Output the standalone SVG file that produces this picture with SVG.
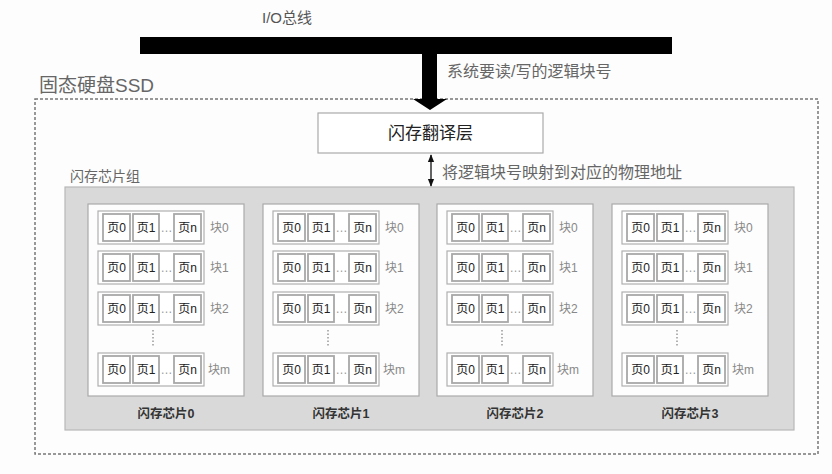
<svg xmlns="http://www.w3.org/2000/svg" width="832" height="474" viewBox="0 0 832 474">
<style>
text{font-family:"Liberation Sans","Noto Sans CJK SC",sans-serif}
.chip{fill:#fdfdfd;stroke:#aaa;stroke-width:1.2}
.blk{fill:#fff;stroke:#b0b0b0;stroke-width:1.2}
.pg{fill:#fff;stroke:#a8a8a8;stroke-width:1.8}
.pt{font-size:12px;fill:#222;text-anchor:middle}
.dots{font-size:12px;fill:#999;text-anchor:middle}
.bl{font-size:12px;fill:#888}
.cl{font-size:12.5px;fill:#333;text-anchor:middle;font-weight:600}
.vd{stroke:#999;stroke-width:1.5;stroke-dasharray:1.5 2}
.gray{fill:#666}
</style>
<defs>
<marker id="ah" viewBox="0 0 10 10" refX="9" refY="5" markerWidth="6" markerHeight="6" orient="auto-start-reverse"><path d="M0,1 L10,5 L0,9 Z" fill="#111"/></marker>
</defs>
<rect width="832" height="474" fill="#fdfdfd"/>

<g id="bus">
<rect x="140" y="37" width="532" height="17" fill="#000"/>
<text x="262" y="23" font-size="15" fill="#555">I/O总线</text>
</g>

<g id="ssd">
<rect x="35" y="99" width="783" height="355" fill="none" stroke="#777" stroke-width="1.5" stroke-dasharray="3 2"/>
<text x="39" y="92" font-size="19" class="gray">固态硬盘SSD</text>
</g>

<g id="ftl">
<rect x="318" y="113" width="225" height="40" fill="#fff" stroke="#aaa" stroke-width="1.2"/>
<text x="430.5" y="139" font-size="17" fill="#222" text-anchor="middle">闪存翻译层</text>
</g>

<g id="chipgroup">
<rect x="65" y="187" width="729" height="243" fill="#d9d9d9" stroke="#b8b8b8" stroke-width="1.2"/>
<text x="70" y="181" font-size="14" class="gray">闪存芯片组</text>
</g>

<g id="connectors">
<path d="M422,54 H437 V99 H447 L430,110 L413,99 H422 Z" fill="#000"/>
<text x="447" y="77" font-size="16" class="gray">系统要读/写的逻辑块号</text>
<line x1="431" y1="155" x2="431" y2="186" stroke="#111" stroke-width="1.3" marker-start="url(#ah)" marker-end="url(#ah)"/>
<text x="442" y="178" font-size="16" class="gray">将逻辑块号映射到对应的物理地址</text>
</g>

<g id="chip0" transform="translate(88,0)">
<rect class="chip" x="0" y="204" width="156" height="192"/>
<g transform="translate(0,211)"><rect class="blk" x="10" y="0" width="106" height="33"/><rect class="pg" x="15" y="3" width="27" height="27"/><rect class="pg" x="45" y="3" width="26" height="27"/><rect class="pg" x="86" y="3" width="27" height="27"/><text class="pt" x="28.5" y="21">页0</text><text class="pt" x="58" y="21">页1</text><text class="pt" x="99.5" y="21">页n</text><text class="dots" x="78.5" y="21">…</text><text class="bl" x="122" y="21">块0</text></g>
<g transform="translate(0,251)"><rect class="blk" x="10" y="0" width="106" height="33"/><rect class="pg" x="15" y="3" width="27" height="27"/><rect class="pg" x="45" y="3" width="26" height="27"/><rect class="pg" x="86" y="3" width="27" height="27"/><text class="pt" x="28.5" y="21">页0</text><text class="pt" x="58" y="21">页1</text><text class="pt" x="99.5" y="21">页n</text><text class="dots" x="78.5" y="21">…</text><text class="bl" x="122" y="21">块1</text></g>
<g transform="translate(0,292)"><rect class="blk" x="10" y="0" width="106" height="33"/><rect class="pg" x="15" y="3" width="27" height="27"/><rect class="pg" x="45" y="3" width="26" height="27"/><rect class="pg" x="86" y="3" width="27" height="27"/><text class="pt" x="28.5" y="21">页0</text><text class="pt" x="58" y="21">页1</text><text class="pt" x="99.5" y="21">页n</text><text class="dots" x="78.5" y="21">…</text><text class="bl" x="122" y="21">块2</text></g>
<line class="vd" x1="65" y1="330" x2="65" y2="347"/>
<g transform="translate(0,353)"><rect class="blk" x="10" y="0" width="106" height="33"/><rect class="pg" x="15" y="3" width="27" height="27"/><rect class="pg" x="45" y="3" width="26" height="27"/><rect class="pg" x="86" y="3" width="27" height="27"/><text class="pt" x="28.5" y="21">页0</text><text class="pt" x="58" y="21">页1</text><text class="pt" x="99.5" y="21">页n</text><text class="dots" x="78.5" y="21">…</text><text class="bl" x="120" y="21">块m</text></g>
<text class="cl" x="78" y="418">闪存芯片0</text>
</g>

<g id="chip1" transform="translate(263,0)">
<rect class="chip" x="0" y="204" width="156" height="192"/>
<g transform="translate(0,211)"><rect class="blk" x="10" y="0" width="106" height="33"/><rect class="pg" x="15" y="3" width="27" height="27"/><rect class="pg" x="45" y="3" width="26" height="27"/><rect class="pg" x="86" y="3" width="27" height="27"/><text class="pt" x="28.5" y="21">页0</text><text class="pt" x="58" y="21">页1</text><text class="pt" x="99.5" y="21">页n</text><text class="dots" x="78.5" y="21">…</text><text class="bl" x="122" y="21">块0</text></g>
<g transform="translate(0,251)"><rect class="blk" x="10" y="0" width="106" height="33"/><rect class="pg" x="15" y="3" width="27" height="27"/><rect class="pg" x="45" y="3" width="26" height="27"/><rect class="pg" x="86" y="3" width="27" height="27"/><text class="pt" x="28.5" y="21">页0</text><text class="pt" x="58" y="21">页1</text><text class="pt" x="99.5" y="21">页n</text><text class="dots" x="78.5" y="21">…</text><text class="bl" x="122" y="21">块1</text></g>
<g transform="translate(0,292)"><rect class="blk" x="10" y="0" width="106" height="33"/><rect class="pg" x="15" y="3" width="27" height="27"/><rect class="pg" x="45" y="3" width="26" height="27"/><rect class="pg" x="86" y="3" width="27" height="27"/><text class="pt" x="28.5" y="21">页0</text><text class="pt" x="58" y="21">页1</text><text class="pt" x="99.5" y="21">页n</text><text class="dots" x="78.5" y="21">…</text><text class="bl" x="122" y="21">块2</text></g>
<line class="vd" x1="65" y1="330" x2="65" y2="347"/>
<g transform="translate(0,353)"><rect class="blk" x="10" y="0" width="106" height="33"/><rect class="pg" x="15" y="3" width="27" height="27"/><rect class="pg" x="45" y="3" width="26" height="27"/><rect class="pg" x="86" y="3" width="27" height="27"/><text class="pt" x="28.5" y="21">页0</text><text class="pt" x="58" y="21">页1</text><text class="pt" x="99.5" y="21">页n</text><text class="dots" x="78.5" y="21">…</text><text class="bl" x="120" y="21">块m</text></g>
<text class="cl" x="78" y="418">闪存芯片1</text>
</g>

<g id="chip2" transform="translate(437,0)">
<rect class="chip" x="0" y="204" width="156" height="192"/>
<g transform="translate(0,211)"><rect class="blk" x="10" y="0" width="106" height="33"/><rect class="pg" x="15" y="3" width="27" height="27"/><rect class="pg" x="45" y="3" width="26" height="27"/><rect class="pg" x="86" y="3" width="27" height="27"/><text class="pt" x="28.5" y="21">页0</text><text class="pt" x="58" y="21">页1</text><text class="pt" x="99.5" y="21">页n</text><text class="dots" x="78.5" y="21">…</text><text class="bl" x="122" y="21">块0</text></g>
<g transform="translate(0,251)"><rect class="blk" x="10" y="0" width="106" height="33"/><rect class="pg" x="15" y="3" width="27" height="27"/><rect class="pg" x="45" y="3" width="26" height="27"/><rect class="pg" x="86" y="3" width="27" height="27"/><text class="pt" x="28.5" y="21">页0</text><text class="pt" x="58" y="21">页1</text><text class="pt" x="99.5" y="21">页n</text><text class="dots" x="78.5" y="21">…</text><text class="bl" x="122" y="21">块1</text></g>
<g transform="translate(0,292)"><rect class="blk" x="10" y="0" width="106" height="33"/><rect class="pg" x="15" y="3" width="27" height="27"/><rect class="pg" x="45" y="3" width="26" height="27"/><rect class="pg" x="86" y="3" width="27" height="27"/><text class="pt" x="28.5" y="21">页0</text><text class="pt" x="58" y="21">页1</text><text class="pt" x="99.5" y="21">页n</text><text class="dots" x="78.5" y="21">…</text><text class="bl" x="122" y="21">块2</text></g>
<line class="vd" x1="65" y1="330" x2="65" y2="347"/>
<g transform="translate(0,353)"><rect class="blk" x="10" y="0" width="106" height="33"/><rect class="pg" x="15" y="3" width="27" height="27"/><rect class="pg" x="45" y="3" width="26" height="27"/><rect class="pg" x="86" y="3" width="27" height="27"/><text class="pt" x="28.5" y="21">页0</text><text class="pt" x="58" y="21">页1</text><text class="pt" x="99.5" y="21">页n</text><text class="dots" x="78.5" y="21">…</text><text class="bl" x="120" y="21">块m</text></g>
<text class="cl" x="78" y="418">闪存芯片2</text>
</g>

<g id="chip3" transform="translate(612,0)">
<rect class="chip" x="0" y="204" width="156" height="192"/>
<g transform="translate(0,211)"><rect class="blk" x="10" y="0" width="106" height="33"/><rect class="pg" x="15" y="3" width="27" height="27"/><rect class="pg" x="45" y="3" width="26" height="27"/><rect class="pg" x="86" y="3" width="27" height="27"/><text class="pt" x="28.5" y="21">页0</text><text class="pt" x="58" y="21">页1</text><text class="pt" x="99.5" y="21">页n</text><text class="dots" x="78.5" y="21">…</text><text class="bl" x="122" y="21">块0</text></g>
<g transform="translate(0,251)"><rect class="blk" x="10" y="0" width="106" height="33"/><rect class="pg" x="15" y="3" width="27" height="27"/><rect class="pg" x="45" y="3" width="26" height="27"/><rect class="pg" x="86" y="3" width="27" height="27"/><text class="pt" x="28.5" y="21">页0</text><text class="pt" x="58" y="21">页1</text><text class="pt" x="99.5" y="21">页n</text><text class="dots" x="78.5" y="21">…</text><text class="bl" x="122" y="21">块1</text></g>
<g transform="translate(0,292)"><rect class="blk" x="10" y="0" width="106" height="33"/><rect class="pg" x="15" y="3" width="27" height="27"/><rect class="pg" x="45" y="3" width="26" height="27"/><rect class="pg" x="86" y="3" width="27" height="27"/><text class="pt" x="28.5" y="21">页0</text><text class="pt" x="58" y="21">页1</text><text class="pt" x="99.5" y="21">页n</text><text class="dots" x="78.5" y="21">…</text><text class="bl" x="122" y="21">块2</text></g>
<line class="vd" x1="65" y1="330" x2="65" y2="347"/>
<g transform="translate(0,353)"><rect class="blk" x="10" y="0" width="106" height="33"/><rect class="pg" x="15" y="3" width="27" height="27"/><rect class="pg" x="45" y="3" width="26" height="27"/><rect class="pg" x="86" y="3" width="27" height="27"/><text class="pt" x="28.5" y="21">页0</text><text class="pt" x="58" y="21">页1</text><text class="pt" x="99.5" y="21">页n</text><text class="dots" x="78.5" y="21">…</text><text class="bl" x="120" y="21">块m</text></g>
<text class="cl" x="78" y="418">闪存芯片3</text>
</g>
</svg>
